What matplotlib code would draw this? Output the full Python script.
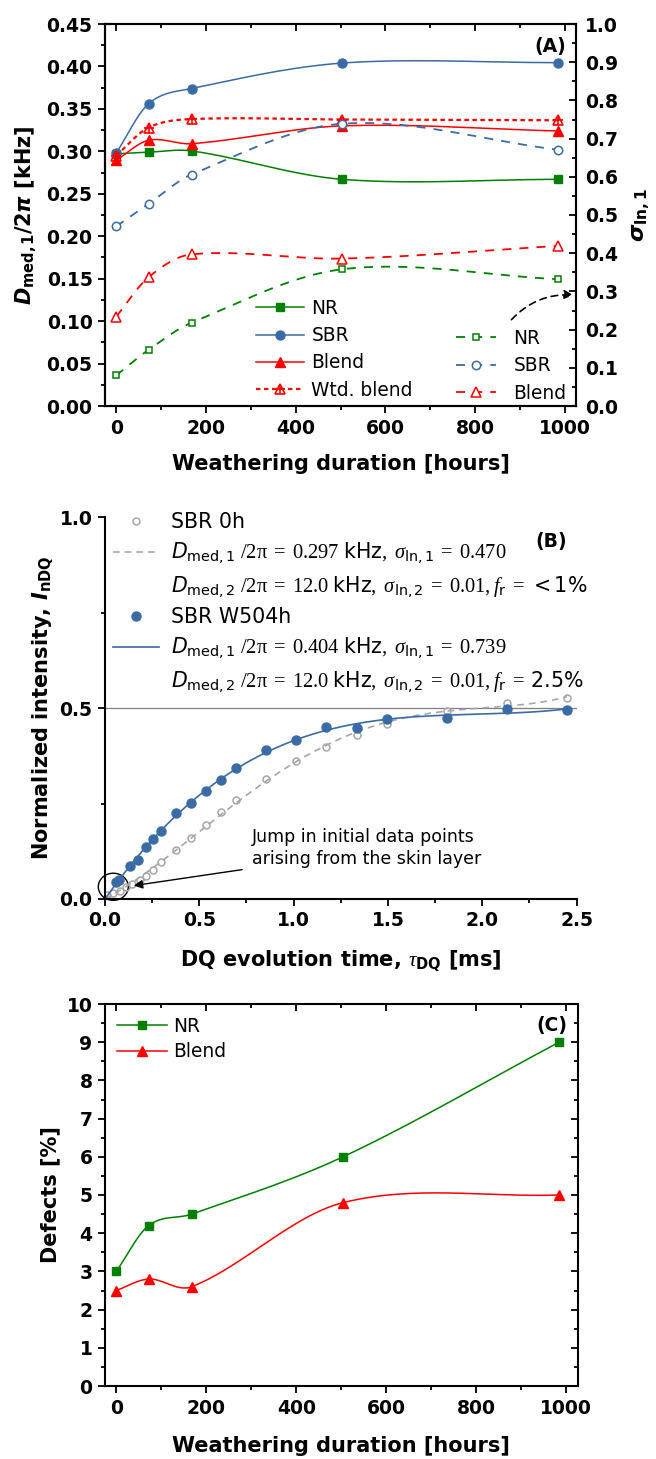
import numpy as np
import matplotlib
matplotlib.use("Agg")
import matplotlib.pyplot as plt
from matplotlib.lines import Line2D
from matplotlib.patches import Ellipse
from matplotlib.ticker import MultipleLocator, FormatStrFormatter

plt.rcParams['font.family'] = 'DejaVu Sans'
plt.rcParams['mathtext.fontset'] = 'custom'
plt.rcParams['mathtext.rm'] = 'Liberation Serif'
plt.rcParams['mathtext.it'] = 'Liberation Serif:italic'
plt.rcParams['mathtext.sf'] = 'DejaVu Sans'
plt.rcParams['mathtext.cal'] = 'DejaVu Sans:italic'
plt.rcParams['mathtext.bf'] = 'DejaVu Sans:bold'
plt.rcParams['mathtext.bfit'] = 'DejaVu Sans:italic:bold'

# ---- panel A / C data (weathering time in hours)
hours = [0, 72, 168, 504, 984]
dmed_nr = [0.297, 0.299, 0.3005, 0.267, 0.267]
dmed_sbr = [0.298, 0.356, 0.374, 0.404, 0.4045]
dmed_blend = [0.2895, 0.313, 0.309, 0.330, 0.324]
dmed_wtd = [0.295, 0.328, 0.338, 0.3375, 0.3366]
sig_nr = [0.080, 0.147, 0.218, 0.358, 0.332]
sig_sbr = [0.470, 0.529, 0.606, 0.739, 0.671]
sig_blend = [0.234, 0.337, 0.397, 0.386, 0.419]
defects_nr = [3.0, 4.2, 4.5, 6.0, 9.0]
defects_blend = [2.5, 2.8, 2.6, 4.8, 5.0]

# ---- panel B data (DQ build-up)
tau_0h = [0.010, 0.044, 0.080, 0.112, 0.145, 0.186, 0.217, 0.256, 0.295, 0.376, 0.455,
          0.535, 0.615, 0.695, 0.853, 1.013, 1.174, 1.334, 1.493, 1.812, 2.130, 2.449]
indq_0h = [0.010, 0.017, 0.021, 0.032, 0.040, 0.050, 0.060, 0.077, 0.096, 0.127, 0.160,
           0.193, 0.227, 0.258, 0.313, 0.362, 0.398, 0.430, 0.459, 0.492, 0.513, 0.526]
tau_504h = [0.058, 0.076, 0.133, 0.177, 0.217, 0.256, 0.295, 0.376, 0.455, 0.535,
            0.615, 0.695, 0.853, 1.013, 1.174, 1.334, 1.493, 1.812, 2.130, 2.449]
indq_504h = [0.044, 0.050, 0.086, 0.101, 0.135, 0.158, 0.178, 0.225, 0.251, 0.284,
             0.312, 0.343, 0.390, 0.417, 0.449, 0.448, 0.471, 0.474, 0.497, 0.494]

GREEN = '#008000'
BLUE = '#3A6BA5'
RED = '#FF0000'
GRAY = '#A6A6A6'
W, H = 656, 1459
TICK_FS = 13.5
LABEL_FS = 15
LEG_FS = 13.4


def spline(x, y, n=300):
    # cubic Hermite (Catmull-Rom type) curve through the points
    x = np.asarray(x, float)
    y = np.asarray(y, float)
    m = np.empty_like(y)
    m[1:-1] = (y[2:] - y[:-2]) / (x[2:] - x[:-2])
    m[0] = (y[1] - y[0]) / (x[1] - x[0])
    m[-1] = (y[-1] - y[-2]) / (x[-1] - x[-2])
    xs = np.linspace(x[0], x[-1], n)
    i = np.clip(np.searchsorted(x, xs) - 1, 0, len(x) - 2)
    h = x[i + 1] - x[i]
    t = (xs - x[i]) / h
    h00 = 2 * t ** 3 - 3 * t ** 2 + 1
    h10 = t ** 3 - 2 * t ** 2 + t
    h01 = -2 * t ** 3 + 3 * t ** 2
    h11 = t ** 3 - t ** 2
    return xs, h00 * y[i] + h10 * h * m[i] + h01 * y[i + 1] + h11 * h * m[i + 1]


def fit_curve(t, y, n=300):
    # least squares polynomial through the origin
    t = np.asarray(t, float)
    y = np.asarray(y, float)
    basis = np.vstack([t ** p for p in range(1, 5)]).T
    coef = np.linalg.lstsq(basis, y, rcond=None)[0]
    ts = np.linspace(0, t[-1], n)
    return ts, np.vstack([ts ** p for p in range(1, 5)]).T @ coef


def style_axis(ax):
    for s in ax.spines.values():
        s.set_linewidth(1.5)
    ax.tick_params(which='both', direction='out', width=1.3, labelsize=TICK_FS, pad=4)
    ax.tick_params(which='major', length=5)
    ax.tick_params(which='minor', length=3)
    for lab in ax.get_xticklabels() + ax.get_yticklabels():
        lab.set_fontweight('bold')


def top_ticks_inward(ax):
    ax.tick_params(axis='x', which='both', top=True, labeltop=False)
    for t in ax.xaxis.get_major_ticks() + ax.xaxis.get_minor_ticks():
        t.tick2line.set_marker(matplotlib.markers.TICKDOWN)


fig = plt.figure(figsize=(W / 100, H / 100), dpi=100)

# ================= panel A =================
axA = fig.add_axes([105 / W, 1 - 406 / H, 471 / W, 382 / H])
axA2 = axA.twinx()
axA.set_xlim(-25, 1025)
axA.set_ylim(0, 0.45)
axA2.set_ylim(0, 1.0)

solid = []
for vals, col, mk, ms in [(dmed_nr, GREEN, 's', 5.5), (dmed_sbr, BLUE, 'o', 6.5),
                          (dmed_blend, RED, '^', 7.5)]:
    xs, ys = spline(hours, vals)
    ln, = axA.plot(xs, ys, color=col, lw=1.1)
    pt, = axA.plot(hours, vals, ls='none', marker=mk, ms=ms, color=col)
    solid.append((ln, pt))
xs, ys = spline(hours, dmed_wtd)
ln, = axA.plot(xs, ys, color=RED, lw=1.6, ls=(0, (2, 1.6)))
tri, = axA.plot(hours, dmed_wtd, ls='none', marker='^', ms=7.5, mfc='none', mec=RED, mew=1.2)
plus, = axA.plot(hours, dmed_wtd, ls='none', marker='+', ms=7, mec=RED, mew=1.2)
solid.append((ln, tri, plus))

dashed = []
for vals, col, mk, ms in [(sig_nr, GREEN, 's', 5), (sig_sbr, BLUE, 'o', 6),
                          (sig_blend, RED, '^', 7)]:
    xs, ys = spline(hours, vals)
    ln, = axA2.plot(xs, ys, color=col, lw=1.3, ls=(0, (5, 4.5)))
    pt, = axA2.plot(hours, vals, ls='none', marker=mk, ms=ms, mfc='white', mec=col, mew=1.1)
    dashed.append((ln, pt))

axA.xaxis.set_major_locator(MultipleLocator(200))
axA.xaxis.set_minor_locator(MultipleLocator(100))
axA.yaxis.set_major_locator(MultipleLocator(0.05))
axA.yaxis.set_minor_locator(MultipleLocator(0.025))
axA.yaxis.set_major_formatter(FormatStrFormatter('%.2f'))
axA2.yaxis.set_major_locator(MultipleLocator(0.1))
axA2.yaxis.set_minor_locator(MultipleLocator(0.05))
axA2.yaxis.set_major_formatter(FormatStrFormatter('%.1f'))
style_axis(axA)
style_axis(axA2)
axA2.tick_params(which='both', direction='in', pad=6.5)
top_ticks_inward(axA)

axA.set_xlabel('Weathering duration [hours]', fontsize=LABEL_FS, fontweight='bold')
axA.xaxis.set_label_coords(0.5, -0.125)
axA.set_ylabel(r'$\mathbfit{D}_{\mathbf{med,1}}$/2$\mathbfit{\pi}$ [kHz]', fontsize=LABEL_FS,
               fontweight='bold')
axA.yaxis.set_label_coords(-0.142, 0.5)
axA2.set_ylabel(r'$\mathbfit{\sigma}_{\mathbf{ln,1}}$', fontsize=LABEL_FS + 1)
axA2.yaxis.set_label_coords(1.115, 0.5)
axA.text(968, 0.4238, '(A)', fontsize=13.5, fontweight='bold', ha='center', va='center')

legA1 = axA2.legend(solid, ['NR', 'SBR', 'Blend', 'Wtd. blend'], loc='upper left',
                    bbox_to_anchor=(0.3206, 0.281), frameon=False, fontsize=LEG_FS,
                    borderpad=0, borderaxespad=0, handlelength=2.6, handletextpad=0.38,
                    labelspacing=0.45, numpoints=1)
axA2.add_artist(legA1)
axA2.legend(dashed, ['NR', 'SBR', 'Blend'], loc='upper left',
            bbox_to_anchor=(0.745, 0.202), frameon=False, fontsize=LEG_FS,
            borderpad=0, borderaxespad=0, handlelength=2.15, handletextpad=0.95,
            labelspacing=0.45, numpoints=1)
axA.annotate('', xy=(1025, 0.29 * 0.45), xytext=(877, 0.0993), annotation_clip=False,
             arrowprops=dict(arrowstyle='-|>', color='k', lw=1.2, ls=(0, (4, 3)),
                             connectionstyle='arc3,rad=-0.25', mutation_scale=13))

# ================= panel B =================
axB = fig.add_axes([105 / W, 1 - 899 / H, 471.5 / W, 382 / H])
axB.set_xlim(0, 2.5)
axB.set_ylim(0, 1.0)
axB.spines['top'].set_visible(False)
axB.spines['right'].set_visible(False)
axB.axhline(0.5, color='#7F7F7F', lw=0.9, zorder=1)

ts, fs = fit_curve(tau_0h, indq_0h)
fit0, = axB.plot(ts, fs, color=GRAY, lw=1.2, ls=(0, (4, 3)))
pts0, = axB.plot(tau_0h, indq_0h, ls='none', marker='o', ms=5, mfc='none', mec=GRAY, mew=1.1)
ts, fs = fit_curve(tau_504h, indq_504h)
fit1, = axB.plot(ts, fs, color=BLUE, lw=1.2)
pts1, = axB.plot(tau_504h, indq_504h, ls='none', marker='o', ms=6.5, color=BLUE)

blank = Line2D([], [], ls='none')
labels_B = [
    'SBR 0h',
    r'$\mathcal{D}_{\mathsf{med,1}}\ /2\mathrm{\pi}\;=\;0.297\ \mathsf{kHz},\ \sigma_{\mathsf{ln,1}}\;=\;0.470$',
    r'$\mathcal{D}_{\mathsf{med,2}}\ /2\mathrm{\pi}\;=\;12.0\ \mathsf{kHz},\ \sigma_{\mathsf{ln,2}}\;=\;0.01, f_{\mathsf{r}}\;=\;\mathsf{<1\%}$',
    'SBR W504h',
    r'$\mathcal{D}_{\mathsf{med,1}}\ /2\mathrm{\pi}\;=\;0.404\ \mathsf{kHz},\ \sigma_{\mathsf{ln,1}}\;=\;0.739$',
    r'$\mathcal{D}_{\mathsf{med,2}}\ /2\mathrm{\pi}\;=\;12.0\ \mathsf{kHz},\ \sigma_{\mathsf{ln,2}}\;=\;0.01, f_{\mathsf{r}}\;=\;\mathsf{2.5\%}$',
]
axB.legend([pts0, fit0, blank, pts1, fit1, blank], labels_B, loc='upper left',
           bbox_to_anchor=(0.017, 1.013), frameon=False, fontsize=14.8, borderpad=0,
           borderaxespad=0, handlelength=2.25, handletextpad=0.58, labelspacing=0.40,
           numpoints=1)
axB.text(2.365, 0.935, '(B)', fontsize=13.5, fontweight='bold', ha='center', va='center')

axB.add_patch(Ellipse((0.044, 0.032), 0.159, 0.071, fill=False, color='k', lw=1.0,
                      clip_on=False))
axB.annotate('', xy=(0.138, 0.034), xytext=(0.742, 0.078),
             arrowprops=dict(arrowstyle='-|>', color='k', lw=1.0, mutation_scale=13))
axB.text(0.78, 0.1335, 'Jump in initial data points\narising from the skin layer',
         fontsize=12.5, ha='left', va='center', linespacing=1.35)

axB.xaxis.set_major_locator(MultipleLocator(0.5))
axB.xaxis.set_minor_locator(MultipleLocator(0.25))
axB.yaxis.set_major_locator(MultipleLocator(0.5))
axB.yaxis.set_minor_locator(MultipleLocator(0.25))
axB.xaxis.set_major_formatter(FormatStrFormatter('%.1f'))
axB.yaxis.set_major_formatter(FormatStrFormatter('%.1f'))
style_axis(axB)
axB.set_xlabel(r'DQ evolution time, $\tau_{\mathbf{DQ}}$ [ms]', fontsize=LABEL_FS,
               fontweight='bold')
axB.xaxis.set_label_coords(0.5, -0.128)
axB.set_ylabel(r'Normalized intensity, $\mathbfit{I}_{\mathbf{nDQ}}$', fontsize=LABEL_FS,
               fontweight='bold')
axB.yaxis.set_label_coords(-0.107, 0.5)

# ================= panel C =================
axC = fig.add_axes([105 / W, 1 - 1386 / H, 472.5 / W, 382 / H])
axC.set_xlim(-25, 1025)
axC.set_ylim(0, 10)
xs, ys = spline(hours, defects_nr)
lnC1, = axC.plot(xs, ys, color=GREEN, lw=1.1)
ptC1, = axC.plot(hours, defects_nr, ls='none', marker='s', ms=5.5, color=GREEN)
xs, ys = spline(hours, defects_blend)
lnC2, = axC.plot(xs, ys, color=RED, lw=1.1)
ptC2, = axC.plot(hours, defects_blend, ls='none', marker='^', ms=7.5, color=RED)
axC.legend([(lnC1, ptC1), (lnC2, ptC2)], ['NR', 'Blend'], loc='upper left',
           bbox_to_anchor=(0.0254, 0.966), frameon=False, fontsize=LEG_FS, borderpad=0,
           borderaxespad=0, handlelength=2.66, handletextpad=0.38, labelspacing=0.34,
           numpoints=1)
axC.text(968, 9.45, '(C)', fontsize=13.5, fontweight='bold', ha='center', va='center')
axC.xaxis.set_major_locator(MultipleLocator(200))
axC.xaxis.set_minor_locator(MultipleLocator(100))
axC.yaxis.set_major_locator(MultipleLocator(1))
axC.yaxis.set_minor_locator(MultipleLocator(0.5))
style_axis(axC)
top_ticks_inward(axC)
axC.tick_params(axis='y', which='both', right=True, labelright=False)
for t in axC.yaxis.get_major_ticks() + axC.yaxis.get_minor_ticks():
    t.tick2line.set_marker(matplotlib.markers.TICKLEFT)
axC.set_xlabel('Weathering duration [hours]', fontsize=LABEL_FS, fontweight='bold')
axC.xaxis.set_label_coords(0.5, -0.131)
axC.set_ylabel('Defects [%]', fontsize=LABEL_FS, fontweight='bold')
axC.yaxis.set_label_coords(-0.094, 0.5)

fig.savefig('out.png', dpi=100)
